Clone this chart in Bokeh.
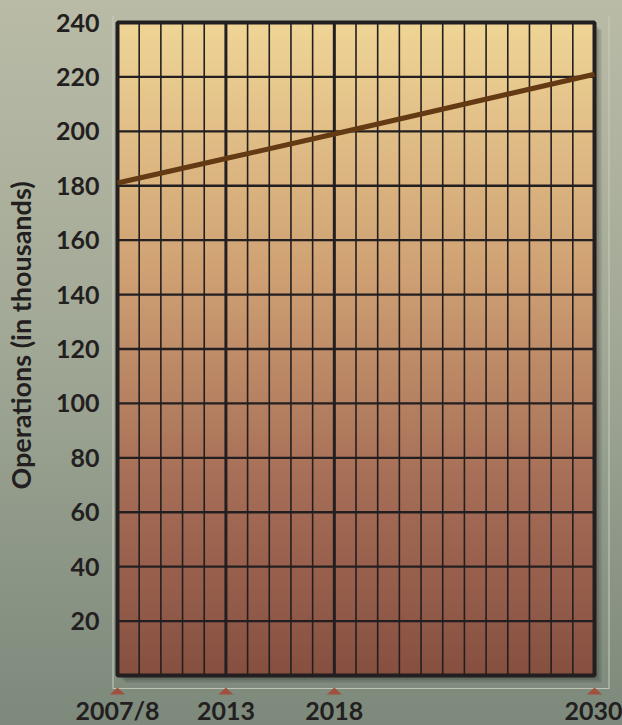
import numpy as np
from bokeh.plotting import figure
from bokeh.models import FixedTicker, GlobalInlineStyleSheet, Range1d
from bokeh.embed import file_html
from bokeh.resources import INLINE

# ---- data ----
years = [2008, 2013, 2018, 2030]
year_labels = ["2007/8", "2013", "2018", "2030"]
operations = [181, 190, 199, 221]
y_ticks = [20, 40, 60, 80, 100, 120, 140, 160, 180, 200, 220, 240]
y_title = "Operations (in thousands)"

# ---- layout (pixels) ----
W, H = 622, 725
PL, PR, PT, PB = 117, 594, 22, 675          # chart panel
X0, X1 = years[0], years[-1]
Y0, Y1 = 0, 240
PX = (PR - PL) / (X1 - X0)    # px per year
PY = (PB - PT) / (Y1 - Y0)    # px per unit

DARK = "#231f20"
FONT = "Lato"

# the frame covers the whole canvas; axes are pinned to the panel edges
x_range = Range1d(X0 - PL / PX, X1 + (W - PR) / PX)
y_range = Range1d(Y0 - (H - PB) / PY, Y1 + PT / PY)

p = figure(width=W, height=H, x_range=x_range, y_range=y_range,
           output_backend="svg", toolbar_location=None,
           min_border_left=0, min_border_right=0, min_border_top=0, min_border_bottom=0)
p.background_fill_color = None
p.border_fill_color = None
p.outline_line_color = None
p.grid.visible = False

# page background gradient
p.stylesheets = [GlobalInlineStyleSheet(css=(
    "html{height:100%;background:linear-gradient(180deg,#b9bba6 0%,#a3a997 45%,#7c897b 100%);}"
    "body{background:transparent;}"))]

# soft shadow right/below the panel
for off in [1.5, 3, 4.5, 6, 7.5]:
    dx, dy = off / PX, off / PY
    p.quad(left=X0 + dx, right=X1 + dx, bottom=Y0 - dy, top=Y1 - dy,
           fill_color="black", fill_alpha=0.07, line_color=None)

# panel gradient
stop_v = [0, 75, 149, 240]
stop_c = ["#874f40", "#a87058", "#cfa173", "#efd596"]
rgb = np.array([[int(c[i:i + 2], 16) for i in (1, 3, 5)] for c in stop_c], dtype=float)
N = 256
vv = (np.arange(N) + 0.5) / N * (Y1 - Y0)
img = np.empty((N, 2), dtype=np.uint32)
view = img.view(dtype=np.uint8).reshape((N, 2, 4))
for k in range(3):
    view[:, :, k] = np.interp(vv, stop_v, rgb[:, k]).round().astype(np.uint8)[:, None]
view[:, :, 3] = 255
p.image_rgba(image=[img], x=X0, y=Y0, dw=X1 - X0, dh=Y1 - Y0)

# grid lines
grid_years = list(range(X0 + 1, X1))
p.segment(x0=grid_years, y0=[Y0] * len(grid_years), x1=grid_years, y1=[Y1] * len(grid_years),
          line_color=DARK, line_width=1.6)
major_years = years[1:-1]
p.segment(x0=major_years, y0=[Y0] * len(major_years), x1=major_years, y1=[Y1] * len(major_years),
          line_color=DARK, line_width=3)
grid_vals = y_ticks[:-1]
p.segment(x0=[X0] * len(grid_vals), y0=grid_vals, x1=[X1] * len(grid_vals), y1=grid_vals,
          line_color=DARK, line_width=2.4)

# panel border
p.quad(left=X0, right=X1, bottom=Y0, top=Y1, fill_color=None, line_color=DARK, line_width=4)

# data line
p.line(years, operations, line_color="#643a14", line_width=5)

# light outer frame (left, bottom, right)
L, R = X0 - 4.5 / PX, X1 + 14.5 / PX
T, B = Y1 + 7 / PY, Y0 - 13 / PY
p.line([L, L, R, R], [T, B, B, T], line_color="#c8cdbc", line_width=1.2, line_alpha=0.85)

# tick triangles
tri_w = 7.5 / PX
tri_top, tri_bot = Y0 - 12 / PY, Y0 - 19 / PY
p.patches(xs=[[yr - tri_w, yr, yr + tri_w] for yr in years],
          ys=[[tri_bot, tri_top, tri_bot] for _ in years],
          fill_color="#a0503c", line_color=None)

# axes, pinned to the panel edges
p.xaxis.fixed_location = Y0
p.xaxis.bounds = (X0, X1)
p.xaxis.ticker = FixedTicker(ticks=years)
p.xaxis.major_label_overrides = {yr: lab for yr, lab in zip(years, year_labels)}
p.yaxis.fixed_location = X0
p.yaxis.bounds = (10, Y1)
p.yaxis.ticker = FixedTicker(ticks=y_ticks)
p.yaxis.axis_label = y_title
for ax in (p.xaxis, p.yaxis):
    ax.axis_line_color = None
    ax.major_tick_line_color = None
    ax.minor_tick_line_color = None
    ax.major_tick_out = 0
    ax.major_tick_in = 0
    ax.minor_tick_out = 0
    ax.minor_tick_in = 0
    ax.major_label_text_font = FONT
    ax.major_label_text_font_style = "bold"
    ax.major_label_text_font_size = "25px"
    ax.major_label_text_color = DARK
p.xaxis.major_label_standoff = 19
p.yaxis.major_label_standoff = 18
p.yaxis.axis_label_text_font = FONT
p.yaxis.axis_label_text_font_style = "bold"
p.yaxis.axis_label_text_font_size = "27px"
p.yaxis.axis_label_text_color = DARK
p.yaxis.axis_label_standoff = 16

open("out.html", "w").write(file_html(p, INLINE))
